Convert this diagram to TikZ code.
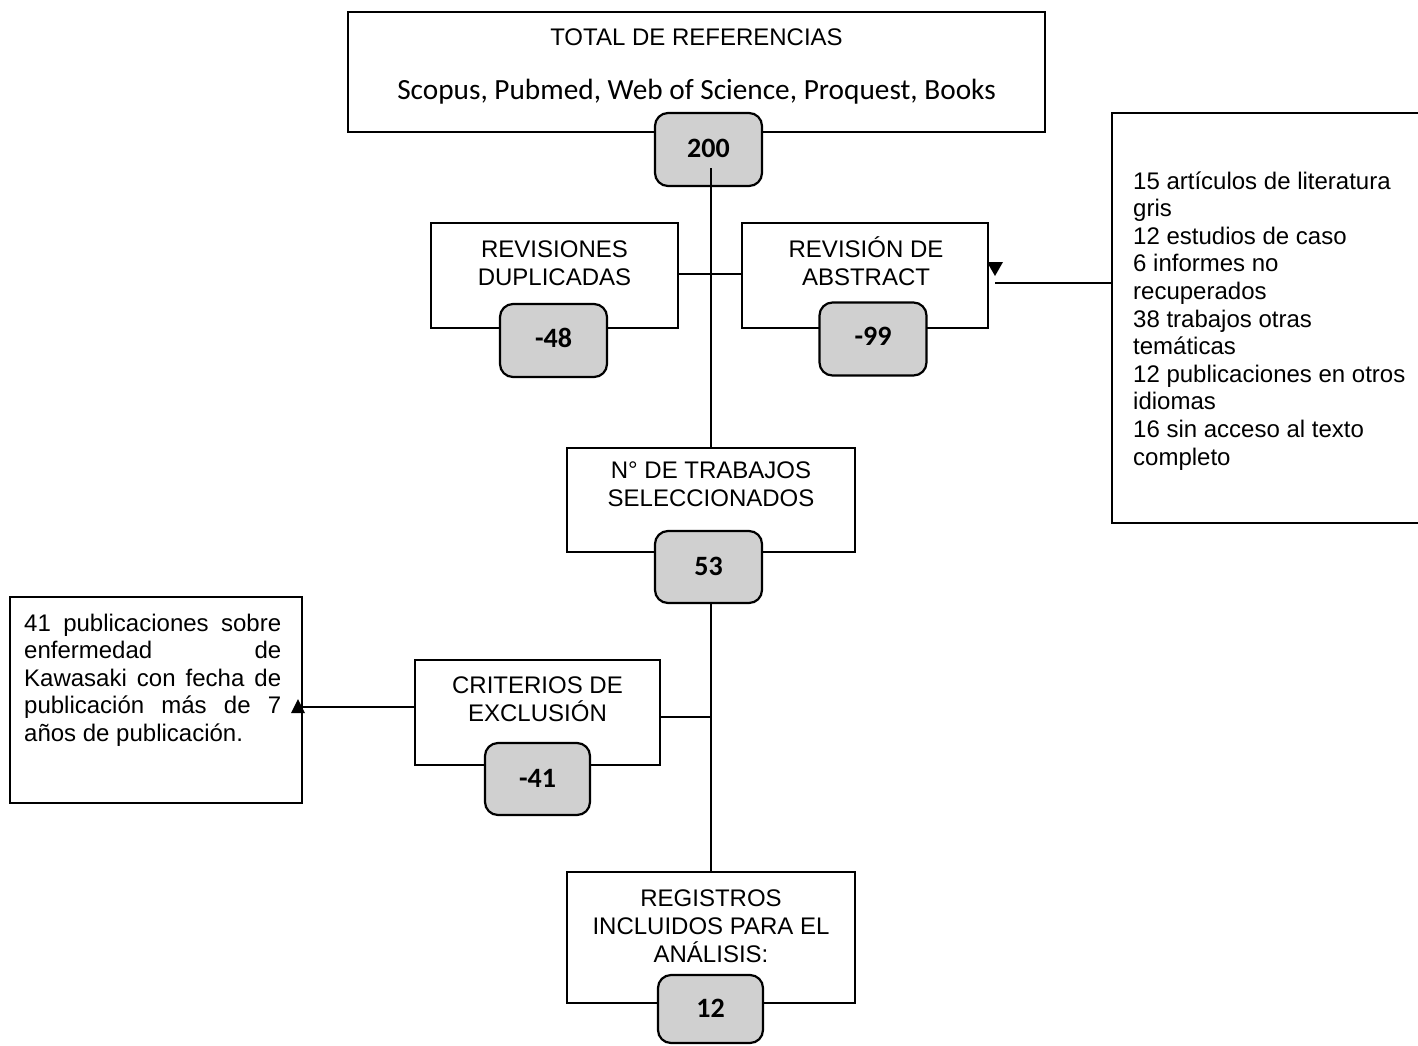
\documentclass[tikz,border=0pt]{standalone}
\usepackage{fontspec}
\setmainfont{Liberation Sans}
\newfontfamily\calib{Carlito}
\definecolor{numgray}{RGB}{208,208,208}
\begin{document}
\begin{tikzpicture}[x=1pt,y=-1pt,
  bigbox/.style={draw,line width=2.2pt,inner sep=0pt},
  numbox/.style={draw,line width=2.2pt,fill=numgray,rounded corners=13pt,inner sep=0pt},
  txt/.style={font=\fontsize{24}{27.6}\selectfont,align=center,inner sep=0pt,anchor=base},
  numtxt/.style={font=\calib\bfseries\fontsize{28}{34}\selectfont,inner sep=0pt,anchor=base},
  conn/.style={line width=1.3pt}]
\clip (0,0) rectangle (1418,1045);
\fill[white] (0,0) rectangle (1418,1045);
% big boxes
\node[bigbox,minimum width=697pt,minimum height=120pt] (top) at (696.5,72) {};
\node[bigbox,minimum width=247pt,minimum height=105pt] (dup) at (554.5,275.5) {};
\node[bigbox,minimum width=246pt,minimum height=105pt] (abs) at (865,275.5) {};
\node[bigbox,minimum width=330pt,minimum height=410pt] (side) at (1277,318) {};
\node[bigbox,minimum width=288pt,minimum height=104pt] (sel) at (711,500) {};
\node[bigbox,minimum width=245pt,minimum height=105pt] (crit) at (537.5,712.5) {};
\node[bigbox,minimum width=292pt,minimum height=206pt] (left) at (156,700) {};
\node[bigbox,minimum width=288pt,minimum height=131pt] (reg) at (711,937.5) {};
% number boxes
\node[numbox,minimum width=107pt,minimum height=73pt] (n200) at (708.5,149.5) {};
\node[numbox,minimum width=107pt,minimum height=73pt] (n48) at (553.5,340.5) {};
\node[numbox,minimum width=107pt,minimum height=73pt] (n99) at (873,339) {};
\node[numbox,minimum width=107pt,minimum height=72pt] (n53) at (708.5,567) {};
\node[numbox,minimum width=105pt,minimum height=72pt] (n41) at (537.5,779) {};
\node[numbox,minimum width=105pt,minimum height=68pt] (n12) at (710.5,1009) {};
% texts (base anchor = baseline of last line)
\node[txt] (toptitle) at (696.5,45) {TOTAL DE REFERENCIAS};
\node[txt,font=\calib\fontsize{29.3}{35}\selectfont] (topsrc) at (696.5,99) {Scopus, Pubmed, Web of Science, Proquest, Books};
\node[txt] (duptxt) at (554.5,285) {REVISIONES\\DUPLICADAS};
\node[txt] (abstxt) at (866,285) {REVISIÓN DE\\ABSTRACT};
\node[txt] (seltxt) at (711,506) {N° DE TRABAJOS\\SELECCIONADOS};
\node[txt] (crittxt) at (537.5,721) {CRITERIOS DE\\EXCLUSIÓN};
\node[txt] (regtxt) at (711,962) {REGISTROS\\INCLUIDOS PARA EL\\ANÁLISIS:};
\node[txt,align=left,anchor=base west] (sidetxt) at (1133,465) {15 artículos de literatura\\gris\\12 estudios de caso\\6 informes no\\recuperados\\38 trabajos otras\\temáticas\\12 publicaciones en otros\\idiomas\\16 sin acceso al texto\\completo};
\node[txt,align=left,anchor=base west] (lefttxt) at (24,741.5) {\makebox[257pt][s]{41 publicaciones sobre}\\\makebox[257pt][s]{enfermedad de}\\\makebox[257pt][s]{Kawasaki con fecha de}\\\makebox[257pt][s]{publicación más de 7}\\años de publicación.};
\node[numtxt] (t200) at (708.5,157) {200};
\node[numtxt] (t48) at (553.5,347) {-48};
\node[numtxt] (t99) at (873,345) {-99};
\node[numtxt] (t53) at (708.5,575) {53};
\node[numtxt] (t41) at (537.5,787) {-41};
\node[numtxt] (t12) at (710.5,1017) {12};
% connectors
\coordinate (vtop) at (711,168);
\draw[conn] (vtop) -- (vtop |- sel.north);
\draw[conn] (n53.south -| reg.north) -- (reg.north);
\coordinate (dupj) at (678,274);
\draw[conn] (dup.east |- dupj) -- (abs.west |- dupj);
\coordinate (absarr) at (995,283);
\draw[conn] (side.west |- absarr) -- (absarr);
\coordinate (abstip) at (995,276);
\fill (abstip) -- ++(-8,-14) -- ++(16,0) -- cycle;
\coordinate (critj) at (711,717);
\draw[conn] (crit.east |- critj) -- (critj);
\coordinate (leftarr) at (300,707);
\draw[conn] (crit.west |- leftarr) -- (leftarr);
\coordinate (lefttip) at (298,699);
\fill (lefttip) -- ++(-7,14) -- ++(14,0) -- cycle;
\end{tikzpicture}
\end{document}
